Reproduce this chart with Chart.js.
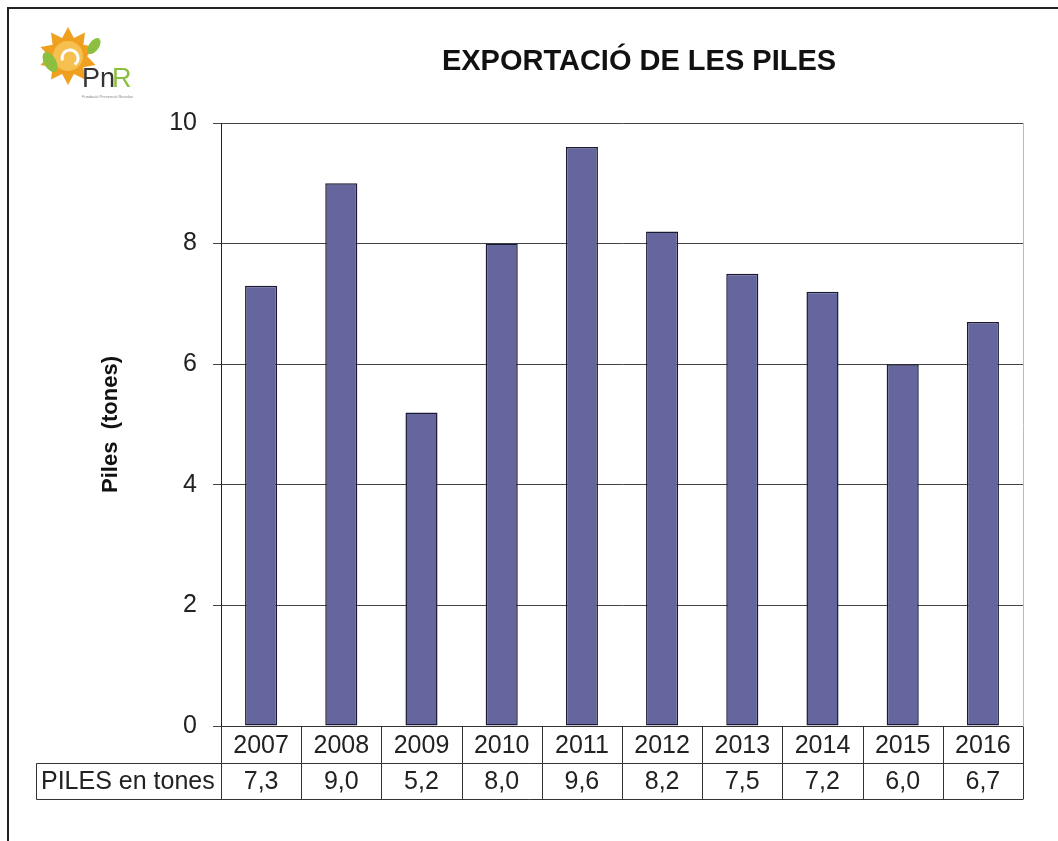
<!DOCTYPE html>
<html>
<head>
<meta charset="utf-8">
<script src="https://cdn.jsdelivr.net/npm/chart.js@4.4.1/dist/chart.umd.min.js"></script>
<style>
  html, body { margin: 0; padding: 0; background: #fff; }
  #wrap { width: 1058px; height: 841px; }
</style>
</head>
<body>
<div id="wrap"><canvas id="chart" width="1058" height="841"></canvas></div>
<script>
// --- DATA ---
const years = ['2007', '2008', '2009', '2010', '2011', '2012', '2013', '2014', '2015', '2016'];
const piles = [7.3, 9.0, 5.2, 8.0, 9.6, 8.2, 7.5, 7.2, 6.0, 6.7];
const seriesName = 'PILES en tones';
const chartTitle = 'EXPORTACIÓ DE LES PILES';
const yTitle = 'Piles  (tones)';

const FONT = 'Arial, "Liberation Sans", sans-serif';

// --- small logo drawn on canvas ---
function drawLogo(ctx) {
    ctx.save();
    ctx.textAlign = 'left';
    // sun
    const cx = 68, cy = 56;
    ctx.fillStyle = '#f0a020';
    ctx.beginPath();
    for (let i = 0; i < 20; i++) {
        const a = i * Math.PI / 10 - Math.PI / 2;
        const r = i % 2 === 0 ? 29 : 19;
        const px = cx + r * Math.cos(a), py = cy + r * Math.sin(a);
        i === 0 ? ctx.moveTo(px, py) : ctx.lineTo(px, py);
    }
    ctx.closePath();
    ctx.fill();
    ctx.fillStyle = '#f5c050';
    ctx.beginPath(); ctx.arc(cx, cy, 15, 0, Math.PI * 2); ctx.fill();
    // swirl
    ctx.strokeStyle = '#fff';
    ctx.lineWidth = 3;
    ctx.beginPath(); ctx.arc(cx + 2, cy + 2, 8, Math.PI * 0.9, Math.PI * 2.3); ctx.stroke();
    // leaves
    ctx.fillStyle = '#8cbf3f';
    ctx.beginPath(); ctx.ellipse(50, 62, 6, 11, -0.5, 0, Math.PI * 2); ctx.fill();
    ctx.beginPath(); ctx.ellipse(94, 46, 5, 9, 0.6, 0, Math.PI * 2); ctx.fill();
    // text
    ctx.font = '27px ' + FONT;
    ctx.textBaseline = 'alphabetic';
    ctx.fillStyle = '#333';
    ctx.fillText('Pn', 82, 87);
    const w = ctx.measureText('Pn').width;
    ctx.fillStyle = '#8cbf3f';
    ctx.fillText('R', 82 + w - 3, 87);
    ctx.fillStyle = '#888';
    ctx.font = '4px ' + FONT;
    ctx.fillText('Fundació Prevenció Residus', 82, 98);
    ctx.restore();
}

// --- plugin: frame, title, logo and data table ---
const excelExtras = {
    id: 'excelExtras',
    beforeDraw(chart) {
        const ctx = chart.ctx;
        ctx.save();
        ctx.fillStyle = '#fff';
        ctx.fillRect(0, 0, chart.width, chart.height);
        ctx.strokeStyle = '#222';
        ctx.lineWidth = 2;
        ctx.strokeRect(8, 8, chart.width + 20, chart.height + 20);
        ctx.restore();
    },
    afterDraw(chart) {
        const ctx = chart.ctx;
        const area = chart.chartArea;
        const x = chart.scales.x;
        const half = (area.right - area.left) / years.length / 2;

        drawLogo(ctx);

        ctx.save();
        // right edge of plot area
        ctx.strokeStyle = '#bbb';
        ctx.lineWidth = 1;
        ctx.beginPath();
        ctx.moveTo(area.right + 0.5, area.top);
        ctx.lineTo(area.right + 0.5, area.bottom);
        ctx.stroke();

        // title
        ctx.fillStyle = '#111';
        ctx.font = 'bold 29px ' + FONT;
        ctx.textAlign = 'center';
        ctx.textBaseline = 'middle';
        ctx.fillText(chartTitle, 639, 62);

        // data table
        const top = Math.round(area.bottom) + 0.5;
        const mid = top + 37;
        const bot = top + 73;
        const tableLeft = 36.5;
        ctx.strokeStyle = '#333';
        ctx.lineWidth = 1;
        ctx.beginPath();
        ctx.moveTo(area.left, top); ctx.lineTo(area.right, top);
        ctx.moveTo(tableLeft, mid); ctx.lineTo(area.right, mid);
        ctx.moveTo(tableLeft, bot); ctx.lineTo(area.right, bot);
        ctx.moveTo(tableLeft, mid); ctx.lineTo(tableLeft, bot);
        ctx.moveTo(Math.round(area.left) + 0.5, top); ctx.lineTo(Math.round(area.left) + 0.5, bot);
        years.forEach((y, i) => {
            const r = Math.round(x.getPixelForValue(i) + half) + 0.5;
            ctx.moveTo(r, top); ctx.lineTo(r, bot);
        });
        ctx.stroke();

        ctx.fillStyle = '#222';
        ctx.font = '25px ' + FONT;
        ctx.textAlign = 'center';
        ctx.textBaseline = 'middle';
        years.forEach((y, i) => {
            const c = x.getPixelForValue(i);
            ctx.fillText(y, c, (top + mid) / 2 + 1);
            ctx.fillText(piles[i].toFixed(1).replace('.', ','), c, (mid + bot) / 2 + 1);
        });
        ctx.textAlign = 'left';
        ctx.fillText(seriesName, 41, (mid + bot) / 2 + 1);
        ctx.restore();
    }
};

new Chart(document.getElementById('chart'), {
    type: 'bar',
    data: {
        labels: years,
        datasets: [{
            label: seriesName,
            data: piles,
            backgroundColor: '#66669e',
            borderColor: '#1a1a33',
            borderWidth: 1.5,
            borderSkipped: false,
            barPercentage: 0.4,
            categoryPercentage: 1
        }]
    },
    options: {
        responsive: false,
        animation: false,
        layout: { padding: { left: 98, right: 35, top: 123, bottom: 115 } },
        plugins: {
            legend: { display: false },
            tooltip: { enabled: false },
            title: { display: false }
        },
        scales: {
            x: { display: false },
            y: {
                min: 0,
                max: 10,
                ticks: {
                    stepSize: 2,
                    padding: 16,
                    color: '#222',
                    font: { family: FONT, size: 25 }
                },
                grid: { color: '#444', tickLength: 8, lineWidth: 1 },
                border: { color: '#222', width: 1 },
                title: {
                    display: true,
                    text: yTitle,
                    color: '#111',
                    padding: 0,
                    font: { family: FONT, size: 22, weight: 'bold' }
                },
                afterFit(scale) { scale.width = 123; }
            }
        }
    },
    plugins: [excelExtras]
});
</script>
</body>
</html>
